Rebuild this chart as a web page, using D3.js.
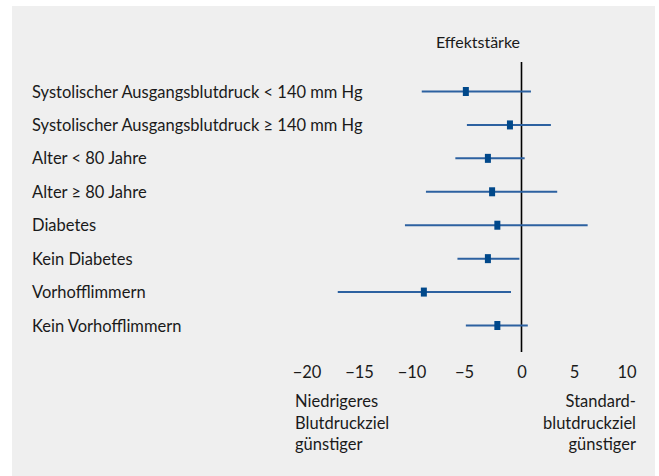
<!DOCTYPE html>
<html>
<head>
<meta charset="utf-8">
<script src="https://cdn.jsdelivr.net/npm/d3@7"></script>
<style>
  html, body { margin: 0; padding: 0; background: #ffffff; }
  svg { display: block; }
  text { font-family: Lato, "Open Sans", sans-serif; fill: #1a1a1a; }
</style>
</head>
<body>
<svg id="chart" width="659" height="476"></svg>
<script>
// Subgroups of the forest plot
const categories = [
  "Systolischer Ausgangsblutdruck < 140 mm Hg",
  "Systolischer Ausgangsblutdruck \u2265 140 mm Hg",
  "Alter < 80 Jahre",
  "Alter \u2265 80 Jahre",
  "Diabetes",
  "Kein Diabetes",
  "Vorhofflimmern",
  "Kein Vorhofflimmern"
];
// Effect size (point estimate) and confidence interval bounds
const estimate = [-5.3, -1.1, -3.2, -2.8, -2.3, -3.2, -9.3, -2.3];
const lower    = [-9.5, -5.2, -6.3, -9.1, -11.1, -6.1, -17.5, -5.3];
const upper    = [0.9, 2.8, 0.3, 3.4, 6.3, -0.2, -1.0, 0.6];
const tickValues = [-20, -15, -10, -5, 0, 5, 10];
const axisTitle = "Effektst\u00e4rke";
const leftNote = ["Niedrigeres", "Blutdruckziel", "g\u00fcnstiger"];
const rightNote = ["Standard-", "blutdruckziel", "g\u00fcnstiger"];

const rows = categories.map((c, i) => ({ name: c, est: estimate[i], lo: lower[i], hi: upper[i] }));

const FONT = "16.5px";
const svg = d3.select("#chart");

// grey panel
svg.append("rect")
  .attr("x", 12).attr("y", 6)
  .attr("width", 643).attr("height", 480)
  .attr("fill", "#efefef");

const x = d3.scaleLinear().domain([-20, 10]).range([311.5, 626.5]);
const y = d3.scalePoint().domain(categories).range([91.5, 325.5]);

const blue = "#00488a";
const ciBlue = "#2c61a0";

// zero reference line
svg.append("line")
  .attr("x1", x(0)).attr("x2", x(0))
  .attr("y1", 62).attr("y2", 352)
  .attr("stroke", "#000").attr("stroke-width", 1.6);

// axis title
svg.append("text")
  .attr("x", 478).attr("y", 47.5)
  .attr("text-anchor", "middle")
  .attr("font-size", "16px")
  .text(axisTitle);

// subgroup labels
svg.append("g").selectAll("text")
  .data(rows).join("text")
  .attr("x", 32)
  .attr("y", d => y(d.name) + 6)
  .attr("font-size", FONT)
  .text(d => d.name);

// confidence intervals
svg.append("g").selectAll("line")
  .data(rows).join("line")
  .attr("x1", d => x(d.lo)).attr("x2", d => x(d.hi))
  .attr("y1", d => y(d.name)).attr("y2", d => y(d.name))
  .attr("stroke", ciBlue).attr("stroke-width", 2);

// point estimates
svg.append("g").selectAll("rect")
  .data(rows).join("rect")
  .attr("x", d => x(d.est) - 3)
  .attr("y", d => y(d.name) - 4.5)
  .attr("width", 6).attr("height", 9)
  .attr("fill", blue);

// x axis (labels only, no domain line or ticks)
const axis = d3.axisBottom(x)
  .tickValues(tickValues)
  .tickSize(0)
  .tickFormat(d => (d < 0 ? "\u2212" : "") + Math.abs(d));

const gAxis = svg.append("g")
  .attr("transform", "translate(0,378)")
  .call(axis);
gAxis.select(".domain").remove();
gAxis.selectAll("text")
  .attr("font-family", "Lato, 'Open Sans', sans-serif")
  .attr("font-size", FONT)
  .attr("fill", "#1a1a1a")
  .attr("y", 0)
  .attr("dy", 0)
  .attr("dx", d => d < 0 ? -5 : 0);

// direction notes below the axis
svg.append("g").selectAll("text")
  .data(leftNote).join("text")
  .attr("x", 295)
  .attr("y", (d, i) => 407 + i * 21.7)
  .attr("font-size", FONT)
  .text(d => d);

svg.append("g").selectAll("text")
  .data(rightNote).join("text")
  .attr("x", 636)
  .attr("y", (d, i) => 407 + i * 21.7)
  .attr("text-anchor", "end")
  .attr("font-size", FONT)
  .text(d => d);
</script>
</body>
</html>
